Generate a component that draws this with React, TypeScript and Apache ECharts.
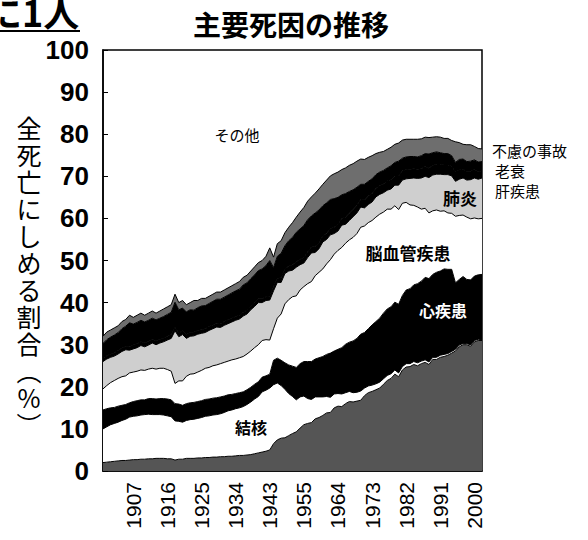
import React, { useEffect, useRef } from "react";
import * as echarts from "echarts";

const years = [
  "1899","1900","1901","1902","1903","1904","1905","1906","1907","1908",
  "1909","1910","1911","1912","1913","1914","1915","1916","1917","1918",
  "1919","1920","1921","1922","1923","1924","1925","1926","1927","1928",
  "1929","1930","1931","1932","1933","1934","1935","1936","1937","1938",
  "1939","1940","1941","1942","1943",
  "1947","1948","1949","1950","1951","1952","1953","1954","1955","1956",
  "1957","1958","1959","1960","1961","1962","1963","1964","1965","1966",
  "1967","1968","1969","1970","1971","1972","1973","1974","1975","1976",
  "1977","1978","1979","1980","1981","1982","1983","1984","1985","1986",
  "1987","1988","1989","1990","1991","1992","1993","1994","1995","1996",
  "1997","1998","1999","2000","2001","2002"
];

const labelYears = ["1907","1916","1925","1934","1943","1955","1964","1973","1982","1991","2000"];

const cancer = [
  2.0,2.1,2.2,2.3,2.4,2.5,2.5,2.6,2.7,2.7, 2.8,2.8,2.9,2.9,3.0,3.0,3.0,2.9,2.9,2.6,
  2.8,2.8,3.0,3.0,3.0,3.1,3.1,3.2,3.2,3.3, 3.3,3.4,3.4,3.5,3.5,3.6,3.7,3.7,3.8,3.9,
  4.1,4.3,4.5,4.7,5.0,
  6.5,7.4,7.8,7.9,8.4,8.9,9.3,10.2,11.0,11.3, 11.5,12.4,12.7,13.2,13.8,13.9,15.0,15.4,15.3,16.0,
  16.5,16.4,16.6,16.8,17.9,18.6,18.9,19.3,19.7,20.6, 21.5,22.0,23.0,22.4,24.0,24.7,24.8,25.3,25.0,25.5,
  25.8,25.3,26.5,26.5,27.0,27.2,27.5,28.0,28.5,29.5, 30.0,30.0,29.6,30.7,31.0,31.0
];
const tuberculosis = [
  8.0,8.4,8.8,9.0,9.2,9.5,9.8,10.2,10.3,10.4, 10.5,10.6,10.6,10.5,10.4,10.4,10.3,10.2,10.0,9.3,
  9.0,8.8,9.0,9.2,9.3,9.4,9.6,9.8,9.9,10.0, 10.1,10.2,10.5,10.8,11.0,11.2,11.3,11.6,12.0,12.5,
  13.0,13.4,14.3,14.5,14.7,
  14.0,13.5,12.5,11.5,10.0,8.8,7.6,7.4,6.8,5.9, 5.5,5.2,4.9,4.4,3.9,3.6,3.3,3.0,3.0,2.6,
  2.4,2.2,2.1,2.2,1.8,1.6,1.5,1.4,1.4,1.3, 1.2,1.1,1.0,0.9,0.8,0.8,0.7,0.7,0.7,0.6,
  0.6,0.6,0.5,0.5,0.5,0.5,0.4,0.4,0.4,0.4, 0.3,0.3,0.3,0.3,0.3,0.2
];
const heart = [
  4.5,4.3,4.0,3.8,3.8,3.6,3.5,3.4,3.5,3.6, 3.6,3.5,3.7,3.8,3.7,3.8,3.9,4.0,4.0,4.1,
  4.1,4.0,4.0,4.0,4.0,4.0,4.0,4.0,4.0,4.0, 4.0,4.0,3.9,3.8,3.7,3.6,3.6,3.5,3.5,3.5,
  3.5,3.5,3.5,3.4,3.3,
  5.8,5.9,6.0,6.3,6.8,7.2,7.7,7.9,8.2,8.8, 9.0,9.0,9.3,9.6,10.0,10.5,10.2,10.5,11.0,11.5,
  11.7,12.3,12.8,13.5,13.2,13.6,14.3,14.8,15.2,15.6, 15.8,15.9,16.1,16.3,16.9,17.5,17.8,18.2,18.8,19.0,
  19.6,19.8,19.7,20.2,20.0,20.3,20.0,19.5,15.8,15.6, 15.9,15.2,15.5,15.3,15.3,15.5
];
const cerebro = [
  5.0,5.5,6.0,6.4,6.6,6.8,6.8,7.1,7.0,7.0, 7.1,7.0,7.0,7.2,7.1,7.2,7.2,7.0,6.8,4.8,
  5.5,5.8,6.5,6.8,6.8,7.0,7.2,7.4,7.5,7.7, 7.8,7.9,8.0,8.0,8.2,8.2,8.3,8.4,8.5,8.6,
  8.7,8.8,8.7,8.6,8.1,
  7.5,9.5,11.0,14.0,15.5,16.5,17.0,17.5,17.8,18.5, 19.0,19.8,20.3,20.8,21.5,22.2,23.0,23.5,23.8,24.0,
  24.3,24.6,24.9,25.4,25.3,25.2,24.8,24.8,24.7,24.0, 23.7,23.2,22.9,22.5,21.9,20.8,19.9,18.9,18.2,17.1,
  16.4,15.6,15.1,14.8,14.2,13.8,13.4,13.3,15.8,15.2, 14.6,14.8,14.5,13.8,13.3,13.3
];
const pneumonia = [
  6.5,6.3,6.0,5.8,5.8,6.0,6.2,5.4,5.5,5.6, 5.8,5.6,5.7,6.0,5.8,6.0,6.3,7.0,7.8,12.5,
  10.5,11.0,9.0,9.0,9.0,9.0,8.8,8.5,8.8,8.8, 9.0,8.6,8.8,8.9,9.0,9.2,9.2,9.6,9.5,9.8,
  9.8,10.0,9.0,9.3,9.5,
  9.0,8.5,7.5,7.2,6.8,6.3,6.8,6.0,5.6,6.2, 6.8,5.5,5.6,6.4,5.8,5.9,4.9,4.6,5.3,4.5,
  4.6,4.9,4.9,4.8,4.3,4.3,4.4,4.8,4.7,4.6, 4.5,4.8,4.9,5.8,5.5,5.6,6.3,6.5,6.8,7.4,
  7.6,8.4,8.5,8.5,8.8,8.6,9.1,8.9,8.3,8.6, 8.8,8.8,9.3,9.5,9.4,9.6
];
const liver = [
  0.8,0.8,0.8,0.8,0.8,0.8,0.8,0.9,0.9,0.9, 0.9,0.9,0.9,0.9,0.9,0.9,0.9,0.9,0.9,0.8,
  0.9,0.9,0.9,0.9,0.9,0.9,0.9,0.9,0.9,0.9, 0.9,0.9,0.9,0.9,0.9,0.9,0.9,0.9,0.9,0.9,
  0.9,0.9,0.9,0.9,0.9,
  1.0,1.0,1.1,1.1,1.2,1.3,1.3,1.3,1.3,1.4, 1.4,1.4,1.4,1.4,1.5,1.5,1.5,1.6,1.6,1.7,
  1.7,1.7,1.8,1.8,1.9,2.0,2.0,2.0,2.1,2.1, 2.2,2.2,2.2,2.2,2.2,2.2,2.2,2.2,2.2,2.2,
  2.3,2.2,2.3,2.3,2.3,2.3,2.3,2.3,2.2,2.2, 2.1,2.1,2.0,2.0,1.8,1.7
];
const senility = [
  3.5,3.8,4.0,4.2,4.3,4.6,4.8,5.6,5.0,5.1, 5.1,5.0,5.0,5.0,5.0,5.0,5.1,5.2,5.3,6.0,
  5.5,5.4,5.4,5.4,5.2,5.4,5.6,5.5,5.5,5.6, 5.7,5.8,5.8,5.9,6.0,6.1,6.2,6.5,6.5,6.5,
  6.6,6.7,7.1,7.4,8.5,
  4.5,5.2,5.8,5.5,6.0,6.5,7.0,7.2,7.6,7.6, 7.4,8.0,7.8,7.2,7.2,6.9,6.8,6.4,5.6,5.6,
  5.2,4.7,4.3,3.6,3.7,3.5,3.5,3.3,3.2,3.2, 3.1,3.3,3.2,3.5,3.0,3.0,3.0,2.9,2.9,3.1,
  3.1,3.4,3.0,3.0,2.8,2.7,2.7,2.5,2.3,2.5, 2.4,2.3,2.4,2.3,2.3,2.2
];
const accidents = [
  1.7,1.8,1.7,1.7,1.6,1.7,1.6,1.8,1.6,1.7, 1.7,1.6,1.7,1.7,1.6,1.7,1.8,1.8,1.8,1.9,
  1.7,1.8,1.7,1.7,2.3,1.7,1.8,1.7,1.7,1.7, 1.7,1.7,1.7,1.7,1.7,1.7,1.8,1.8,1.8,1.8,
  1.9,1.9,2.0,2.2,3.0,
  2.5,3.0,3.0,3.1,3.2,3.5,3.6,4.0,4.3,4.4, 4.5,4.7,5.0,5.1,5.4,5.6,5.9,6.0,6.0,6.1,
  6.2,6.2,6.2,6.0,5.9,5.7,5.5,5.0,4.7,4.5, 4.4,4.4,4.3,4.3,4.3,4.2,4.1,4.1,4.2,4.0,
  3.9,3.9,3.7,3.6,3.7,3.6,3.6,3.6,4.9,4.0, 3.5,4.0,3.9,3.2,3.2,3.0
];

const yAxisNameChars = ["全", "死", "亡", "に", "し", "め", "る", "割", "合", "︵", "%", "︶"];

const LATIN = "'Liberation Sans', Arial, 'Noto Sans CJK JP', sans-serif";
const CJK = "'Noto Sans CJK JP', 'Noto Sans CJK SC', sans-serif";

export default function App() {
  const ref = useRef<HTMLDivElement>(null);
  useEffect(() => {
    const chart = echarts.init(ref.current!, null, { renderer: "svg" });
    const showYear = (_i: number, v: string) => labelYears.indexOf(v) >= 0;
    const layers = [
      { name: "悪性新生物", data: cancer, color: "#555555" },
      { name: "結核", data: tuberculosis, color: "#ffffff" },
      { name: "心疾患", data: heart, color: "#000000" },
      { name: "脳血管疾患", data: cerebro, color: "#ffffff" },
      { name: "肺炎", data: pneumonia, color: "#cfcfcf" },
      { name: "肝疾患", data: liver, color: "#000000" },
      { name: "老衰", data: senility, color: "#000000" },
      { name: "不慮の事故", data: accidents, color: "#6e6e6e" },
    ];
    const lab = (text: string, x: number, y: number, opts: any = {}) => ({
      type: "text",
      x,
      y,
      z: 100,
      silent: true,
      style: {
        text,
        fill: opts.fill || "#000",
        font: `${opts.weight || "normal"} ${opts.size || 16}px ${CJK}`,
        textAlign: opts.align || "center",
        textVerticalAlign: "middle",
      },
    });
    const nameTexts = yAxisNameChars.map((c, k) => lab(c, 29, 127 + k * 27, { size: 25 }));
    chart.setOption({
      animation: false,
      backgroundColor: "#ffffff",
      grid: {
        left: 103,
        top: 50,
        right: 106,
        bottom: 69,
        show: true,
        borderColor: "#000",
        borderWidth: 1.5,
        backgroundColor: "transparent",
      },
      xAxis: {
        type: "category",
        data: years,
        boundaryGap: false,
        axisLine: { show: true, lineStyle: { color: "#000", width: 1.5 } },
        axisTick: { show: true, inside: true, length: 5, interval: showYear, lineStyle: { color: "#000" } },
        axisLabel: {
          rotate: 90,
          interval: showYear,
          fontSize: 21,
          color: "#000",
          margin: 11,
          fontFamily: LATIN,
        },
        splitLine: { show: false },
      },
      yAxis: {
        type: "value",
        min: 0,
        max: 100,
        interval: 10,
        axisLine: { show: true, lineStyle: { color: "#000", width: 1.5 } },
        axisTick: { show: true, inside: true, length: 5, lineStyle: { color: "#000" } },
        axisLabel: { fontSize: 26, fontWeight: "bold", color: "#000", margin: 14, fontFamily: LATIN },
        splitLine: { show: false },
      },
      series: layers.map((l) => ({
        type: "line",
        name: l.name,
        data: l.data,
        stack: "all",
        symbol: "none",
        silent: true,
        lineStyle: { color: "#000", width: 1 },
        areaStyle: { color: l.color, opacity: 1 },
      })),
      graphic: [
        {
          type: "text",
          x: -14,
          y: 11,
          silent: true,
          style: {
            text: "に1人",
            fill: "#000",
            font: `bold 36px ${CJK}`,
            textAlign: "left",
            textVerticalAlign: "middle",
          },
        },
        { type: "line", silent: true, shape: { x1: 0, y1: 31, x2: 80, y2: 31 }, style: { stroke: "#000", lineWidth: 2 } },
        {
          type: "text",
          x: 291,
          y: 24,
          silent: true,
          style: {
            text: "主要死因の推移",
            fill: "#000",
            font: `bold 28px ${CJK}`,
            textAlign: "center",
            textVerticalAlign: "middle",
          },
        },
        ...nameTexts,
        lab("その他", 237, 134, { size: 15 }),
        lab("不慮の事故", 492, 150, { size: 15, align: "left" }),
        lab("老衰", 495, 170, { size: 15, align: "left" }),
        lab("肝疾患", 495, 190, { size: 15, align: "left" }),
        lab("肺炎", 460, 197, { size: 17, weight: "bold" }),
        lab("脳血管疾患", 408, 252, { size: 17, weight: "bold" }),
        lab("心疾患", 443, 310, { size: 16, weight: "bold", fill: "#fff" }),
        lab("結核", 251, 427, { size: 16, weight: "bold" }),
      ],
    });
    return () => chart.dispose();
  }, []);
  return <div ref={ref} style={{ position: "fixed", left: 0, top: 0, width: 588, height: 540 }} />;
}
